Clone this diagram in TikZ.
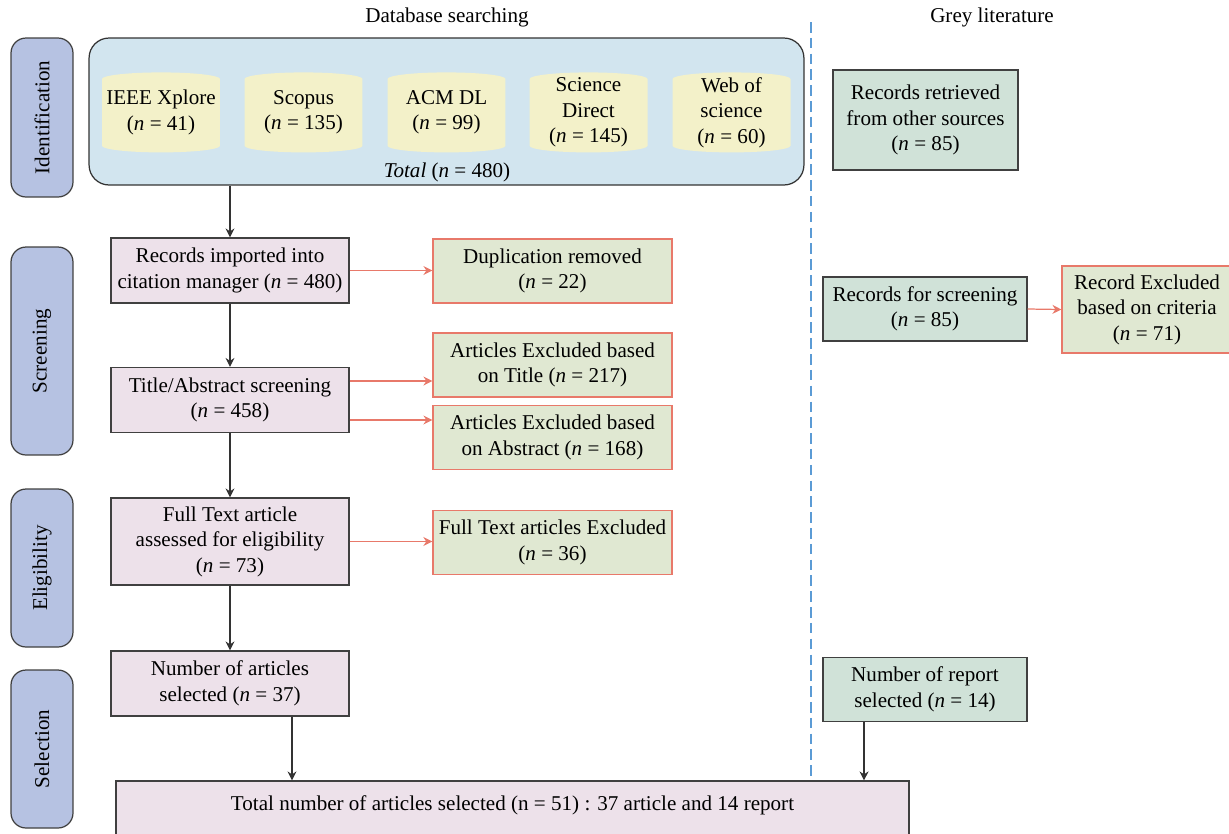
\documentclass[tikz,border=0pt]{standalone}
\usepackage{fontspec}
\setmainfont{Liberation Serif}
\usetikzlibrary{shapes.geometric}
\usetikzlibrary{arrows.meta}

\definecolor{phasefill}{HTML}{B6C2E2}
\definecolor{dbfill}{HTML}{D2E5EF}
\definecolor{cylfill}{HTML}{F3F1C9}
\definecolor{pinkfill}{HTML}{EDE1EA}
\definecolor{exfill}{HTML}{E0E8D2}
\definecolor{exline}{HTML}{E8796A}
\definecolor{greyfill}{HTML}{D0E2D8}
\definecolor{dashblue}{HTML}{5B9BD5}

\newcommand{\nn}[1]{(\textit{n} = #1)}
\newcommand{\cyltext}[1]{\parbox[c][1.1cm][c]{2.2cm}{\centering #1\par\vspace{0.14cm}}}

\begin{document}
\begin{tikzpicture}[x=0.02cm, y=-0.02cm, line width=0.7pt,
  every node/.style={font=\fontsize{12}{14.5}\selectfont, align=center},
  phase/.style={draw=black!75, fill=phasefill, rounded corners=0.3cm, rotate=90, minimum height=1.24cm},
  cyl/.style={cylinder, shape border rotate=90, aspect=0.12, fill=cylfill, minimum width=2.36cm, minimum height=1.6cm, inner sep=0pt},
  pinkbox/.style={draw=black!75, fill=pinkfill, minimum width=4.76cm, minimum height=1.3cm},
  exbox/.style={draw=exline, fill=exfill, minimum width=4.78cm, minimum height=1.28cm},
  greybox/.style={draw=black!75, fill=greyfill, minimum width=4.08cm, minimum height=1.28cm},
  arr/.style={-{Stealth[length=1.8mm, width=1.8mm]}, draw=black!80},
  redarr/.style={-{Stealth[length=1.8mm, width=1.8mm]}, draw=exline}]
  \useasboundingbox (0,0) rectangle (1229,833);

  % headers and divider
  \node (dbhead) at (447,17) {Database searching};
  \node (greyhead) at (992,17) {Grey literature};
  \coordinate (divtop) at (811,22);
  \coordinate (divbot) at (811,778);
  \draw[dashblue, dashed, dash pattern=on 6pt off 3pt] (divtop) -- (divbot);

  % phases
  \node[phase, minimum width=3.18cm] (ident) at (42,117.5) {Identification};
  \node[phase, minimum width=4.16cm] (screenph) at (42,351) {Screening};
  \node[phase, minimum width=3.16cm] (elig) at (42,568) {Eligibility};
  \node[phase, minimum width=3.16cm] (selph) at (42,749) {Selection};

  % databases
  \node[draw=black!80, fill=dbfill, rounded corners=0.4cm, minimum width=14.3cm, minimum height=2.94cm] (dbsearch) at (446.5,111.5) {};
  \node[cyl] (ieee) at (161,116) {\cyltext{IEEE Xplore\\\nn{41}}};
  \node[cyl] (scopus) at (303.5,116) {\cyltext{Scopus\\\nn{135}}};
  \node[cyl] (acm) at (446.5,116) {\cyltext{ACM DL\\\nn{99}}};
  \node[cyl] (scidir) at (588.5,116) {\cyltext{Science\\Direct\\\nn{145}}};
  \node[cyl] (wos) at (731.5,116) {\cyltext{Web of\\science\\\nn{60}}};
  \node (total) at (447,172) {\textit{Total} \nn{480}};

  % database flow
  \node[pinkbox] (rec) at (230,270.5) {Records imported into\\citation manager \nn{480}};
  \node[exbox] (dup) at (552.5,271) {Duplication removed\\\nn{22}};
  \node[pinkbox] (tiab) at (230,400) {Title/Abstract screening\\\nn{458}};
  \node[exbox] (exT) at (552.5,365) {Articles Excluded based\\on Title \nn{217}};
  \node[exbox] (exA) at (552.5,437.5) {Articles Excluded based\\on Abstract \nn{168}};
  \node[pinkbox, minimum height=1.74cm] (full) at (230,541.5) {Full Text article\\assessed for eligibility\\\nn{73}};
  \node[exbox] (exF) at (552.5,542.5) {Full Text articles Excluded\\\nn{36}};
  \node[pinkbox] (artsel) at (230,683.5) {Number of articles\\selected \nn{37}};
  \node[draw=black!75, fill=pinkfill, minimum width=15.86cm, minimum height=1.28cm] (final) at (512.5,813) {};
  \node (finaltext) at (512.5,805) {Total number of articles selected (n = 51) : 37 article and 14 report};

  % grey literature flow
  \node[greybox, minimum width=3.7cm, minimum height=2cm] (other) at (925.5,120) {Records retrieved\\from other sources\\\nn{85}};
  \node[greybox] (screen) at (925,309) {Records for screening\\\nn{85}};
  \node[exbox, minimum width=3.4cm, minimum height=1.74cm] (critex) at (1147,309.5) {Record Excluded\\based on criteria\\\nn{71}};
  \node[greybox] (report) at (925,689.5) {Number of report\\selected \nn{14}};

  % connectors
  \draw[arr] (dbsearch.south -| rec.north) -- (rec.north);
  \draw[arr] (rec.south) -- (tiab.north);
  \draw[arr] (tiab.south) -- (full.north);
  \draw[arr] (full.south) -- (artsel.north);
  \draw[arr] ([xshift=1.24cm]artsel.south) -- ([xshift=1.24cm]artsel.south |- final.north);
  \draw[arr] ([xshift=-1.22cm]report.south) -- ([xshift=-1.22cm]report.south |- final.north);
  \draw[redarr] (rec.east) -- (rec.east -| dup.west);
  \draw[redarr] ([yshift=0.38cm]tiab.east) -- ([yshift=0.38cm]tiab.east -| exT.west);
  \draw[redarr] ([yshift=-0.4cm]tiab.east) -- ([yshift=-0.4cm]tiab.east -| exA.west);
  \draw[redarr] (full.east) -- (full.east -| exF.west);
  \draw[redarr] (screen.east) -- (critex.west);
\end{tikzpicture}
\end{document}
